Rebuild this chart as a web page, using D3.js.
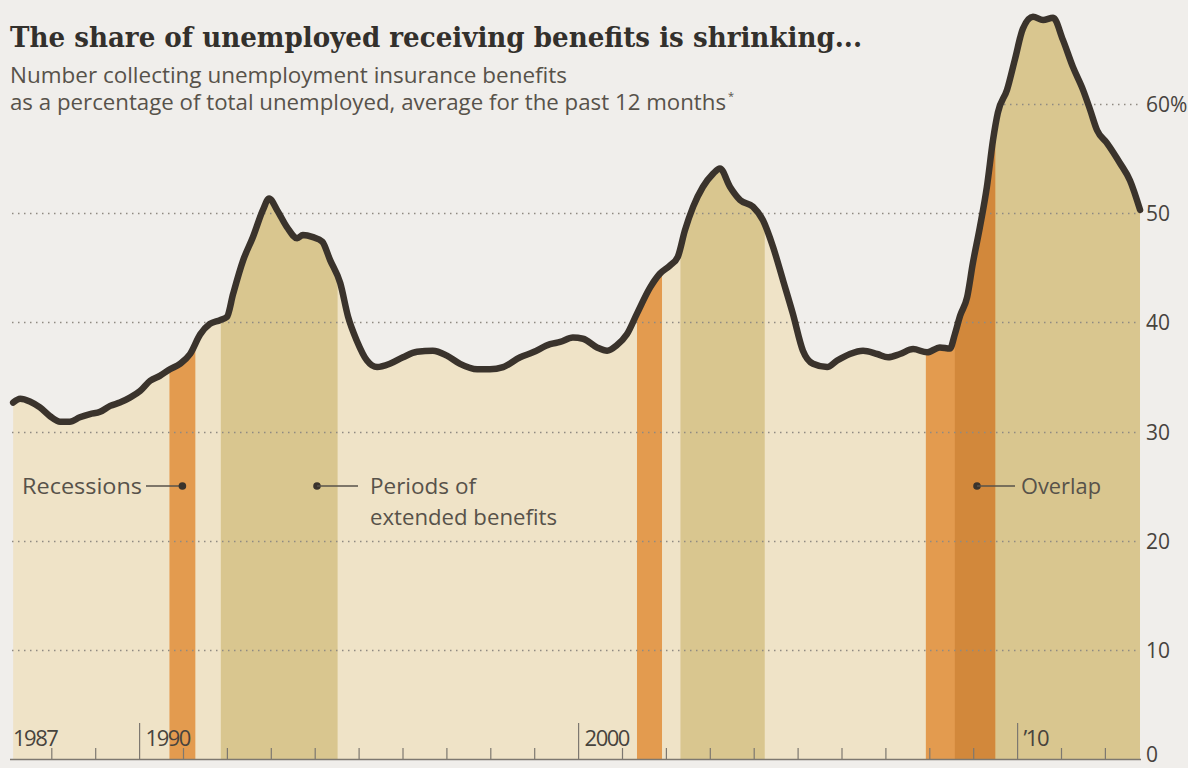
<!DOCTYPE html>
<html>
<head>
<meta charset="utf-8">
<script src="https://cdn.jsdelivr.net/npm/d3@7"></script>
<style>
  html, body { margin: 0; padding: 0; background: #f0eeeb; }
  svg { display: block; }
</style>
</head>
<body>
<svg id="chart" width="1188" height="768"></svg>
<script>
// ---- Data ----
const years = [1987.12, 1987.28, 1987.50, 1987.73, 1987.96, 1988.19, 1988.41, 1988.64, 1988.87, 1989.10,
  1989.33, 1989.55, 1989.78, 1990.01, 1990.24, 1990.46, 1990.69, 1990.92, 1991.15, 1991.38,
  1991.60, 1991.83, 1991.99, 1992.13, 1992.36, 1992.58, 1992.81, 1992.95, 1993.13, 1993.36,
  1993.59, 1993.72, 1993.95, 1994.16, 1994.34, 1994.57, 1994.75, 1994.95, 1995.18, 1995.41,
  1995.70, 1996.00, 1996.32, 1996.68, 1997.00, 1997.30, 1997.69, 1997.98, 1998.28, 1998.67,
  1998.96, 1999.35, 1999.58, 1999.87, 2000.10, 2000.42, 2000.65, 2000.87, 2001.10, 2001.33,
  2001.63, 2001.85, 2002.08, 2002.26, 2002.42, 2002.61, 2002.83, 2003.06, 2003.22, 2003.45,
  2003.68, 2003.97, 2004.20, 2004.43, 2004.66, 2004.88, 2005.11, 2005.34, 2005.66, 2005.89,
  2006.18, 2006.48, 2006.80, 2007.05, 2007.32, 2007.62, 2007.94, 2008.23, 2008.46, 2008.57,
  2008.69, 2008.85, 2008.98, 2009.14, 2009.30, 2009.44, 2009.55, 2009.76, 2009.94, 2010.12,
  2010.35, 2010.58, 2010.81, 2011.03, 2011.26, 2011.49, 2011.65, 2011.81, 2012.04, 2012.33,
  2012.56, 2012.79];
const shares = [32.65, 33.0, 32.75, 32.2, 31.4, 30.9, 30.9, 31.3, 31.6, 31.8,
  32.35, 32.65, 33.1, 33.7, 34.65, 35.1, 35.7, 36.2, 37.1, 38.9,
  39.85, 40.2, 40.5, 42.6, 45.7, 47.8, 50.3, 51.35, 50.3, 48.7,
  47.7, 48.0, 47.8, 47.4, 45.7, 43.6, 40.5, 38.3, 36.5, 35.9,
  36.2, 36.8, 37.3, 37.4, 36.95, 36.2, 35.7, 35.7, 35.9, 36.8,
  37.25, 38.0, 38.2, 38.6, 38.5, 37.7, 37.4, 37.9, 38.9, 40.8,
  43.2, 44.45, 45.2, 46.0, 48.4, 50.6, 52.4, 53.6, 54.1, 52.4,
  51.2, 50.6, 49.35, 46.9, 43.8, 40.8, 37.4, 36.2, 35.9, 36.5,
  37.1, 37.4, 37.1, 36.8, 37.1, 37.55, 37.25, 37.7, 37.6, 38.9,
  40.6, 42.3, 45.4, 48.7, 52.4, 56.7, 59.2, 61.3, 64.1, 66.9,
  68.0, 67.7, 67.9, 65.9, 63.4, 61.3, 59.5, 57.6, 56.4, 54.6,
  53.0, 50.3];

const recessions = [[1990.68, 1991.27], [2001.33, 2001.90], [2007.91, 2009.49]];
const extendedBenefits = [[1991.85, 1994.51], [2002.32, 2004.24], [2008.57, 2012.79]];

const yTicks = [0, 10, 20, 30, 40, 50, 60];
const yTickLabels = ["0", "10", "20", "30", "40", "50", "60%"];
const xMinorTicks = d3.range(1988, 2013);
const xMajorTicks = [1990, 2000, 2010];
const xLabels = [
  { year: 1987, text: "1987" },
  { year: 1990, text: "1990" },
  { year: 2000, text: "2000" },
  { year: 2010, text: "\u201910" }
];

const titleText = "The share of unemployed receiving benefits is shrinking...";
const subtitleLines = [
  "Number collecting unemployment insurance benefits",
  "as a percentage of total unemployed, average for the past 12 months"
];

// ---- Setup ----
const svg = d3.select("#chart");
const x = d3.scaleLinear().domain([1987, 2013]).range([7.9, 1149.3]);
const y = d3.scaleLinear().domain([0, 60]).range([759, 104]);
const data = years.map((yr, i) => ({ yr, v: shares[i] }));
const xEnd = x(years[years.length - 1]);
const xStart = x(years[0]) - 1;

const col = {
  bg: "#f0eeeb",
  base: "#efe3c7",
  ext: "#d9c68f",
  rec: "#e39b4f",
  overlap: "#d2883b",
  line: "#3a332c",
  text: "#47433d",
  grid: "#8f8a82"
};
const sans = "'Open Sans', sans-serif";

svg.append("rect").attr("width", 1188).attr("height", 768).attr("fill", col.bg);

// Clip shape under the curve
const area = d3.area().x(d => x(d.yr)).y0(y(0)).y1(d => y(d.v)).curve(d3.curveMonotoneX);
svg.append("clipPath").attr("id", "under")
  .append("path").datum(data).attr("d", area);

const under = svg.append("g").attr("clip-path", "url(#under)");
under.append("rect").attr("x", xStart).attr("y", 0).attr("width", xEnd - xStart).attr("height", y(0))
  .attr("fill", col.base);
under.selectAll("rect.ext").data(extendedBenefits).join("rect").attr("class", "ext")
  .attr("x", d => x(d[0])).attr("width", d => x(d[1]) - x(d[0]))
  .attr("y", 0).attr("height", y(0)).attr("fill", col.ext);
under.selectAll("rect.rec").data(recessions).join("rect").attr("class", "rec")
  .attr("x", d => x(d[0])).attr("width", d => x(d[1]) - x(d[0]))
  .attr("y", 0).attr("height", y(0)).attr("fill", col.rec);
const overlaps = [];
recessions.forEach(r => extendedBenefits.forEach(e => {
  const a = Math.max(r[0], e[0]), b = Math.min(r[1], e[1]);
  if (b > a) overlaps.push([a, b]);
}));
under.selectAll("rect.ov").data(overlaps).join("rect").attr("class", "ov")
  .attr("x", d => x(d[0])).attr("width", d => x(d[1]) - x(d[0]))
  .attr("y", 0).attr("height", y(0)).attr("fill", col.overlap);

// Gridlines (the top one only runs beside the 2010 peak, clear of the subtitle)
svg.append("g").selectAll("line").data(yTicks.filter(t => t > 0)).join("line")
  .attr("x1", d => d === 60 ? 998 : 12).attr("x2", 1140)
  .attr("y1", d => Math.round(y(d)) + 0.5).attr("y2", d => Math.round(y(d)) + 0.5)
  .attr("stroke", col.grid).attr("stroke-width", 1.4).attr("stroke-dasharray", "1.5,4.5");

// Y labels
svg.append("g").selectAll("text").data(yTicks).join("text")
  .attr("x", 1146).attr("y", d => d === 0 ? 762 : y(d) + 8)
  .attr("font-family", sans).attr("font-size", 21)
  .attr("fill", col.text)
  .text((d, i) => yTickLabels[i]);

// Bottom axis line and ticks
svg.append("line").attr("x1", 10).attr("x2", 1141).attr("y1", y(0) + 0.5).attr("y2", y(0) + 0.5)
  .attr("stroke", "#7d7870").attr("stroke-width", 1.5);
svg.append("g").selectAll("line").data(xMinorTicks).join("line")
  .attr("x1", d => x(d)).attr("x2", d => x(d))
  .attr("y1", d => xMajorTicks.includes(d) ? y(0) - 36 : y(0) - 11)
  .attr("y2", y(0))
  .attr("stroke", "#7d7870").attr("stroke-width", 1.2);
svg.append("g").selectAll("text").data(xLabels).join("text")
  .attr("x", d => d.year === 1987 ? 13 : x(d.year) + 6)
  .attr("y", 746)
  .attr("font-family", sans).attr("font-size", 22)
  .attr("letter-spacing", -1.5)
  .attr("fill", col.text)
  .text(d => d.text);

// Line
svg.append("path").datum(data)
  .attr("d", d3.line().x(d => x(d.yr)).y(d => y(d.v)).curve(d3.curveMonotoneX))
  .attr("fill", "none").attr("stroke", col.line).attr("stroke-width", 6.5)
  .attr("stroke-linejoin", "round").attr("stroke-linecap", "round");

// Annotations
const annY = 486;
const ann = svg.append("g").attr("font-family", sans)
  .attr("font-size", 22).attr("fill", "#57524a");
function dot(cx) {
  ann.append("circle").attr("cx", cx).attr("cy", annY).attr("r", 3.8).attr("fill", col.line);
}
function lead(a, b) {
  ann.append("line").attr("x1", a).attr("x2", b).attr("y1", annY).attr("y2", annY)
    .attr("stroke", "#57524a").attr("stroke-width", 1.5);
}
function label(tx, ty, str, w) {
  ann.append("text").attr("x", tx).attr("y", ty)
    .attr("textLength", w).attr("lengthAdjust", "spacingAndGlyphs").text(str);
}
label(22, annY + 8, "Recessions", 120);
lead(146, 180); dot(x((recessions[0][0] + recessions[0][1]) / 2));
dot(317); lead(317, 358);
label(370, annY + 8, "Periods of", 106);
label(370, annY + 39, "extended benefits", 187);
dot(977); lead(977, 1015);
label(1021, annY + 8, "Overlap", 80);

// Title and subtitle
svg.append("text").attr("x", 10).attr("y", 47)
  .attr("font-family", "'DejaVu Serif', serif").attr("font-weight", "bold")
  .attr("font-size", 28).attr("fill", "#33302c")
  .attr("textLength", 852).attr("lengthAdjust", "spacingAndGlyphs")
  .text(titleText);
const sub = svg.append("g").attr("font-family", sans)
  .attr("font-size", 21).attr("fill", "#57524a");
sub.append("text").attr("x", 10).attr("y", 83)
  .attr("textLength", 557).attr("lengthAdjust", "spacingAndGlyphs").text(subtitleLines[0]);
sub.append("text").attr("x", 10).attr("y", 110)
  .attr("textLength", 716).attr("lengthAdjust", "spacingAndGlyphs").text(subtitleLines[1]);
sub.append("text").attr("x", 728).attr("y", 100).attr("font-size", 11).text("*");
</script>
</body>
</html>
